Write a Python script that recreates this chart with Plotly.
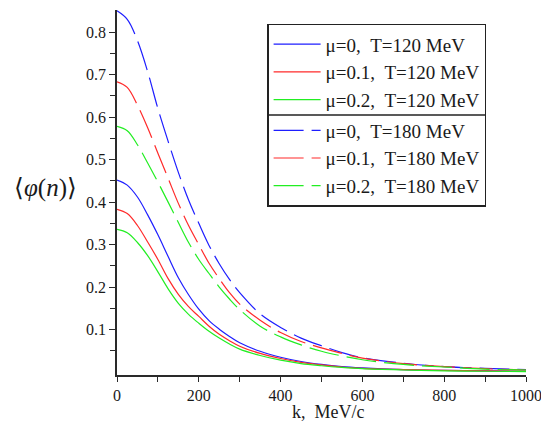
import plotly.graph_objects as go

# momentum grid, MeV/c
k = [0, 25, 50, 75, 100, 125, 150, 175, 200, 225, 250, 275, 300, 350, 400,
     450, 500, 550, 600, 700, 800, 900, 1000]

# T = 120 MeV (solid)
mu0_T120 = [0.452, 0.440, 0.412, 0.370, 0.323, 0.272, 0.222, 0.182, 0.148, 0.121,
            0.101, 0.084, 0.069, 0.049, 0.035, 0.025, 0.018, 0.013, 0.010, 0.006,
            0.004, 0.003, 0.002]
mu01_T120 = [0.383, 0.373, 0.345, 0.306, 0.265, 0.220, 0.183, 0.154, 0.131, 0.108,
             0.089, 0.074, 0.061, 0.044, 0.032, 0.023, 0.017, 0.012, 0.009, 0.006,
             0.004, 0.003, 0.002]
mu02_T120 = [0.336, 0.328, 0.305, 0.274, 0.236, 0.196, 0.162, 0.136, 0.115, 0.096,
             0.080, 0.066, 0.054, 0.039, 0.028, 0.020, 0.015, 0.011, 0.008, 0.005,
             0.003, 0.002, 0.001]

# T = 180 MeV (dashed)
mu0_T180 = [0.850, 0.830, 0.780, 0.707, 0.620, 0.543, 0.470, 0.405, 0.350, 0.298,
            0.255, 0.218, 0.187, 0.137, 0.105, 0.080, 0.062, 0.046, 0.034, 0.021,
            0.013, 0.009, 0.006]
mu01_T180 = [0.683, 0.670, 0.628, 0.575, 0.515, 0.456, 0.397, 0.345, 0.300, 0.256,
             0.220, 0.187, 0.160, 0.122, 0.093, 0.072, 0.057, 0.044, 0.033, 0.020,
             0.013, 0.008, 0.005]
mu02_T180 = [0.578, 0.568, 0.535, 0.492, 0.447, 0.400, 0.352, 0.305, 0.265, 0.232,
             0.200, 0.172, 0.147, 0.108, 0.083, 0.064, 0.049, 0.038, 0.029, 0.018,
             0.012, 0.007, 0.005]

labels = ["μ=0,\u00a0\u00a0T=120 MeV", "μ=0.1,\u00a0\u00a0T=120 MeV", "μ=0.2,\u00a0\u00a0T=120 MeV",
          "μ=0,\u00a0\u00a0T=180 MeV", "μ=0.1,\u00a0\u00a0T=180 MeV", "μ=0.2,\u00a0\u00a0T=180 MeV"]
series = [mu0_T120, mu01_T120, mu02_T120, mu0_T180, mu01_T180, mu02_T180]
colors = ["#1e1eff", "#ff2a2a", "#22ee22"] * 2
dashes = ["solid"] * 3 + ["30px,8px"] * 3
groups = ["g1"] * 3 + ["g2"] * 3

y_ticks = [0.1, 0.2, 0.3, 0.4, 0.5, 0.6, 0.7, 0.8]
y_minor = [0.05, 0.15, 0.25, 0.35, 0.45, 0.55, 0.65, 0.75]
x_ticks = [0, 200, 400, 600, 800, 1000]

SERIF = "Liberation Serif, Times New Roman, serif"
AX = "#2a2a2a"

fig = go.Figure()
for ys, name, c, d, g in zip(series, labels, colors, dashes, groups):
    fig.add_trace(go.Scatter(x=k, y=ys, mode="lines", name=name, legendgroup=g,
                             line=dict(color=c, width=1.2, dash=d, shape="spline")))

fig.update_layout(
    width=541, height=425,
    margin=dict(l=117, r=15, t=10, b=50, autoexpand=False),
    paper_bgcolor="white", plot_bgcolor="white",
    font=dict(family=SERIF, size=16, color="#1a1a1a"),
    showlegend=True,
    legend=dict(x=0.367, y=0.962, xanchor="left", yanchor="top",
                bgcolor="rgba(255,255,255,0)", bordercolor="#222", borderwidth=1.5,
                font=dict(family=SERIF, size=19, color="#1a1a1a"),
                itemwidth=47, tracegroupgap=3, traceorder="grouped"),
    xaxis=dict(range=[0, 1000], tickvals=x_ticks, showgrid=False, zeroline=False,
               showline=True, linecolor=AX, linewidth=1.5, automargin=False,
               ticks="outside", ticklen=5, tickcolor=AX, tickwidth=1.2,
               ticklabeloverflow="allow",
               minor=dict(tickvals=[100, 300, 500, 700, 900], ticks="outside",
                          ticklen=5, tickcolor=AX, tickwidth=1.2),
               tickfont=dict(family=SERIF, size=16)),
    yaxis=dict(range=[-0.0068, 0.852], tickvals=y_ticks,
               ticktext=[f"{v:.1f}" for v in y_ticks],
               showgrid=False, zeroline=False, automargin=False,
               showline=True, linecolor=AX, linewidth=1.5,
               ticks="outside", ticklen=6, tickcolor=AX, tickwidth=1.2,
               minor=dict(tickvals=y_minor, ticks="outside", ticklen=5,
                          tickcolor=AX, tickwidth=1.2),
               tickfont=dict(family=SERIF, size=16)),
)

# separator line between legend groups
fig.add_shape(type="line", xref="paper", yref="paper",
              x0=0.3667, x1=0.902, y0=0.712, y1=0.712,
              line=dict(color="#222", width=1.5))

fig.add_annotation(text="k,\u00a0\u00a0MeV/c", xref="paper", yref="paper",
                   x=0.516, y=-0.1026, xanchor="center", yanchor="middle",
                   showarrow=False, font=dict(family=SERIF, size=18, color="#1a1a1a"))
fig.add_annotation(text="⟨<i>φ</i>(<i>n</i>)⟩", xref="paper", yref="paper",
                   x=-0.175, y=0.513, xanchor="center", yanchor="middle",
                   showarrow=False, font=dict(family=SERIF, size=25, color="#1a1a1a"))

fig.write_html("out.html")
